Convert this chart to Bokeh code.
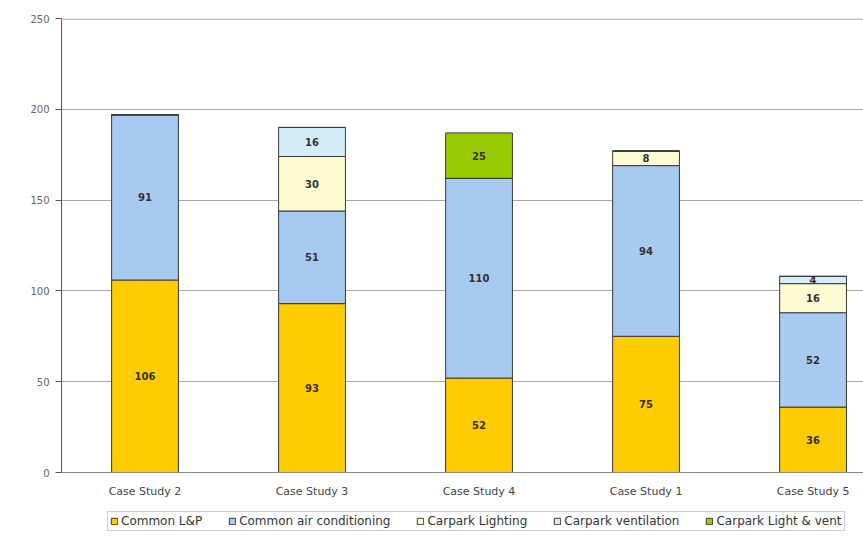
from bokeh.plotting import figure
from bokeh.models import ColumnDataSource, Range1d, FixedTicker, Legend, LegendItem, Span
from bokeh.layouts import column
from bokeh.core.properties import value
from bokeh.embed import file_html
from bokeh.resources import INLINE

categories = ["Case Study 2", "Case Study 3", "Case Study 4", "Case Study 1", "Case Study 5"]
common_lp = [106, 93, 52, 75, 36]
common_ac = [91, 51, 110, 94, 52]
carpark_lighting = [0, 30, 0, 8, 16]
carpark_vent = [0, 16, 0, 0, 4]
carpark_light_vent = [0, 0, 25, 0, 0]

series_names = ["Common L&P", "Common air conditioning", "Carpark Lighting",
                "Carpark ventilation", "Carpark Light & vent"]
series_values = [common_lp, common_ac, carpark_lighting, carpark_vent, carpark_light_vent]
colors = ["#FFCC00", "#A6CAF0", "#FFFBD2", "#D4EEF9", "#99CC00"]
y_ticks = [0, 50, 100, 150, 200, 250]

FONT = "DejaVu Sans"

xs = [i + 0.5 for i in range(len(categories))]
data = {"x": xs}
keys = []
for i, vals in enumerate(series_values):
    k = f"s{i}"
    keys.append(k)
    data[k] = vals
source = ColumnDataSource(data)

p = figure(width=863, height=500, output_backend="svg", toolbar_location=None,
           x_range=Range1d(0, 4.802), y_range=Range1d(0, 250),
           min_border_left=61, min_border_right=0, min_border_top=18, min_border_bottom=28)

renderers = p.vbar_stack(keys, x="x", width=0.4, source=source, color=colors,
                         line_color="#3a3a3a", line_width=1)

# value labels
lx, ly, lt = [], [], []
for j in range(len(categories)):
    base = 0
    for vals in series_values:
        v = vals[j]
        if v > 0:
            lx.append(xs[j])
            ly.append(base + v / 2)
            lt.append(str(v))
        base += v
p.text(x=lx, y=ly, text=lt, text_align="center", text_baseline="middle",
       text_font=value(FONT), text_font_size="10px",
       text_font_style="bold", text_color="#333333")

# axes
p.yaxis.ticker = FixedTicker(ticks=y_ticks)
p.yaxis.minor_tick_line_color = None
p.yaxis.major_tick_in = 0
p.yaxis.major_tick_out = 6
p.yaxis.axis_line_color = "#555555"
p.yaxis.major_tick_line_color = "#555555"
p.yaxis.major_label_text_font = FONT
p.yaxis.major_label_text_font_size = "10px"
p.yaxis.major_label_text_color = "#666666"
p.yaxis.major_label_standoff = 6

p.xaxis.ticker = FixedTicker(ticks=xs)
p.xaxis.major_label_overrides = {x: c for x, c in zip(xs, categories)}
p.xaxis.major_tick_line_color = None
p.xaxis.major_tick_out = 0
p.xaxis.major_tick_in = 0
p.xaxis.minor_tick_line_color = None
p.xaxis.axis_line_color = "#888888"
p.xaxis.major_label_text_font = FONT
p.xaxis.major_label_text_font_size = "11px"
p.xaxis.major_label_text_color = "#444444"
p.xaxis.major_label_standoff = 12

p.xgrid.grid_line_color = None
p.ygrid.ticker = FixedTicker(ticks=y_ticks[:-1])
p.ygrid.grid_line_color = "#A8A8A8"
p.outline_line_color = None
p.add_layout(Span(location=y_ticks[-1], dimension="width", line_color="#C4C4C4", line_width=3))

# legend strip (same stacked bars, drawn far outside its visible range)
p2 = figure(width=863, height=38, output_backend="svg", toolbar_location=None,
            x_range=Range1d(0, 4.802), y_range=Range1d(1000, 1001),
            min_border_left=0, min_border_right=0, min_border_top=0, min_border_bottom=0)
p2.axis.visible = False
p2.grid.grid_line_color = None
p2.outline_line_color = None
leg_renderers = p2.vbar_stack(keys, x="x", width=0.4, source=source, color=colors,
                              line_color="#3a3a3a", line_width=1)

legend = Legend(items=[LegendItem(label=n, renderers=[r]) for n, r in zip(series_names, leg_renderers)],
                orientation="horizontal", location=(46, 7),
                label_text_font=FONT, label_text_font_size="12px",
                label_text_color="#333333", glyph_width=8, glyph_height=8,
                label_standoff=3, spacing=26, padding=2, margin=0,
                border_line_color="#999999", border_line_width=1)
p2.add_layout(legend)

layout = column(p, p2, spacing=0)
open("out.html", "w").write(file_html(layout, INLINE))
